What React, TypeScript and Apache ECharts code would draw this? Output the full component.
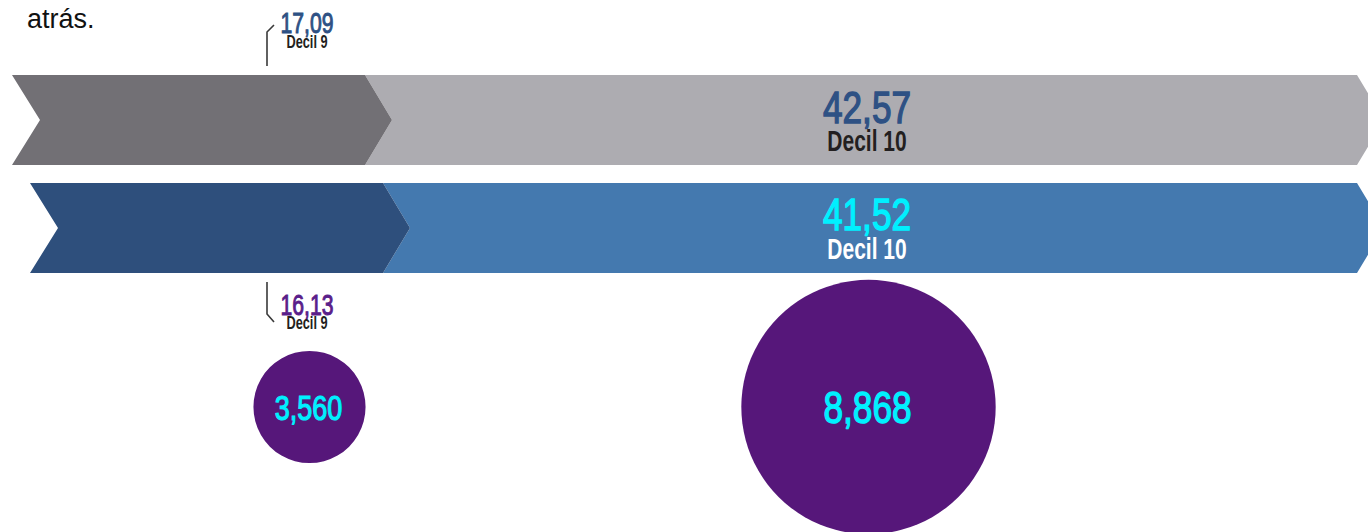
import React, { useEffect, useRef } from "react";
import * as echarts from "echarts";

// ---- data ----
const rows = ["Grupo 1", "Grupo 2"];
const decil9 = [17.09, 16.13];
const decil10 = [42.57, 41.52];
const decil9Label = "Decil 9";
const decil10Label = "Decil 10";
const circleCategories = ["Decil 9", "Decil 10"];
const circleValues = [3560, 8868];
const introText = "atrás.";

const fmtDec = (v: number) => v.toFixed(2).replace(".", ",");
const fmtInt = (v: number) => v.toLocaleString("en-US");

const FONT = "'Liberation Sans', Arial, sans-serif";

const rowStyles = [
  { offset: 12, dark: "#727075", light: "#ADACB1", num: "#2E5184", sub: "#231F20", d9num: "#2E5184", above: true, numDy: -12 },
  { offset: 30, dark: "#2E4F7C", light: "#4479AF", num: "#00F0FF", sub: "#FFFFFF", d9num: "#5A1E8A", above: false, numDy: -13 },
];

const txt = (text: string, x: number, y: number, size: number, color: string, sx: number, weight = "bold", thicken = 0) => ({
  type: "text",
  x,
  y,
  scaleX: sx,
  style: {
    text, x: 0, y: 0, align: "center", verticalAlign: "middle",
    fill: color, fontFamily: FONT, fontWeight: weight, fontSize: size,
    ...(thicken > 0 ? { stroke: color, lineWidth: thicken } : {}),
  },
});

export default function App() {
  const ref = useRef<HTMLDivElement>(null);
  useEffect(() => {
    if (!ref.current) return;
    const chart = echarts.init(ref.current, null, { renderer: "svg" });

    const renderRow = (params: any, api: any) => {
      const i = api.value(0) as number;
      const d9 = api.value(1) as number;
      const d10 = api.value(2) as number;
      const cs = params.coordSys;
      const st = rowStyles[i];
      const cy = api.coord([0, i])[1];
      const bandH = api.size([0, 1])[1] * 0.833;
      const top = cy - bandH / 2;
      const bot = cy + bandH / 2;
      const x0 = cs.x + st.offset;
      const notch = 28;
      const tip = 27;
      const split = x0 + 353;
      const right = cs.x + 1357;
      const bx = cs.x + 267;
      const lx = cs.x + 307;
      const children: any[] = [
        {
          type: "polygon",
          shape: { points: [[split, top], [right, top], [right + tip, cy], [right, bot], [split, bot], [split + tip, cy]] },
          style: { fill: st.light },
        },
        {
          type: "polygon",
          shape: { points: [[x0, top], [split, top], [split + tip, cy], [split, bot], [x0, bot], [x0 + notch, cy]] },
          style: { fill: st.dark },
        },
        txt(fmtDec(d10), cs.x + 867, cy + st.numDy, 44, st.num, 0.8, "normal", 1.4),
        txt(decil10Label, cs.x + 867, cy + 21, 30, st.sub, 0.7),
      ];
      if (st.above) {
        children.push(
          { type: "polyline", shape: { points: [[bx, top - 9], [bx, top - 43], [bx + 7, top - 50]] }, style: { stroke: "#3A3A3A", lineWidth: 1.6, fill: "none" } },
          txt(fmtDec(d9), lx, top - 52, 29, st.d9num, 0.73, "normal", 1),
          txt(decil9Label, lx, top - 33, 18, "#231F20", 0.71)
        );
      } else {
        children.push(
          { type: "polyline", shape: { points: [[bx, bot + 9], [bx, bot + 41], [bx + 7, bot + 49]] }, style: { stroke: "#3A3A3A", lineWidth: 1.6, fill: "none" } },
          txt(fmtDec(d9), lx, bot + 32, 29, st.d9num, 0.73, "normal", 1),
          txt(decil9Label, lx, bot + 50, 18, "#231F20", 0.71)
        );
      }
      return { type: "group", children };
    };

    const renderCircle = (params: any, api: any) => {
      const i = api.value(0) as number;
      const v = api.value(2) as number;
      const [cx, cy] = api.coord([i, 0]);
      const r = (v * 0.0268 + 16.7) / 2;
      const fs = i === 0 ? 35 : 44;
      return {
        type: "group",
        children: [
          { type: "circle", shape: { cx, cy, r }, style: { fill: "#56177A" } },
          txt(fmtInt(v), cx - 1, cy + 1, fs, "#00F0FF", i === 0 ? 0.77 : 0.8, "normal", i === 0 ? 1.2 : 1.4),
        ],
      };
    };

    chart.setOption({
      animation: false,
      backgroundColor: "#FFFFFF",
      graphic: [
        {
          type: "text",
          left: 27,
          top: 5,
          style: { text: introText, fill: "#111111", fontFamily: FONT, fontSize: 27 },
        },
      ],
      grid: [
        { left: 0, right: 0, top: 66, bottom: 250 },
        { left: 30, right: 220, top: 282, bottom: 0 },
      ],
      xAxis: [
        { type: "value", gridIndex: 0, min: 0, max: 50, show: false },
        { type: "category", gridIndex: 1, data: circleCategories, show: false },
      ],
      yAxis: [
        { type: "category", gridIndex: 0, data: rows, inverse: true, show: false },
        { type: "category", gridIndex: 1, data: ["ingreso"], show: false },
      ],
      series: [
        {
          type: "custom",
          xAxisIndex: 0,
          yAxisIndex: 0,
          encode: { x: 1, y: 0 },
          data: rows.map((_, i) => [i, decil9[i], decil10[i]]),
          renderItem: renderRow,
          clip: false,
        },
        {
          type: "custom",
          xAxisIndex: 1,
          yAxisIndex: 1,
          encode: { x: 0, y: 1 },
          data: circleValues.map((v, i) => [i, 0, v]),
          renderItem: renderCircle,
          clip: false,
        },
      ],
    });
    return () => chart.dispose();
  }, []);
  return <div ref={ref} style={{ position: "fixed", left: 0, top: 0, width: 1368, height: 532 }} />;
}
